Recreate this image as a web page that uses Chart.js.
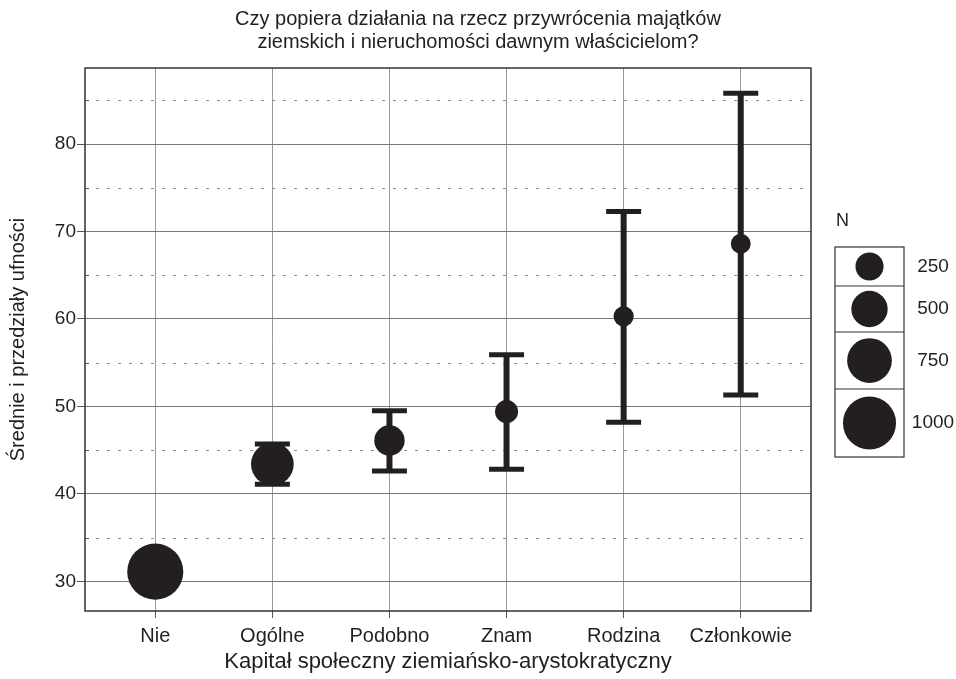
<!DOCTYPE html>
<html>
<head>
<meta charset="utf-8">
<script src="https://cdn.jsdelivr.net/npm/chart.js@4.4.1/dist/chart.umd.min.js"></script>
<style>
  html, body { margin: 0; padding: 0; background: #fff; }
  #wrap { width: 956px; height: 679px; }
</style>
</head>
<body>
<div id="wrap"><canvas id="chart" width="956" height="679"></canvas></div>
<script>
const categories = ['Nie', 'Ogólne', 'Podobno', 'Znam', 'Rodzina', 'Członkowie'];
const means = [31.1, 43.4, 46.1, 49.4, 60.3, 68.6];
const ciLow = [30.0, 41.1, 42.6, 42.8, 48.2, 51.3];
const ciHigh = [32.2, 45.7, 49.5, 55.9, 72.3, 85.8];
const counts = [1090, 690, 320, 100, 12, 5];
const yTicks = [30, 40, 50, 60, 70, 80];
const yHalfTicks = [35, 45, 55, 65, 75, 85];
const legendCounts = [250, 500, 750, 1000];

const ink = '#231f20';
const fontFamily = "'Liberation Sans', Arial, sans-serif";

// bubble size grows with N
function radiusFor(n) {
    return 9.85 + 0.0167 * n;
}

function line(ctx, x1, y1, x2, y2) {
    ctx.beginPath();
    ctx.moveTo(x1, y1);
    ctx.lineTo(x2, y2);
    ctx.stroke();
}

const extrasPlugin = {
    id: 'extras',
    beforeDatasetsDraw(chart) {
        const { ctx, chartArea: a, scales: { x, y } } = chart;
        ctx.save();

        // dotted lines between the labelled ticks
        ctx.strokeStyle = '#8a8a8a';
        ctx.lineWidth = 1;
        ctx.setLineDash([3, 8]);
        yHalfTicks.forEach(v => {
            const py = Math.round(y.getPixelForValue(v)) + 0.5;
            line(ctx, a.left, py, a.right, py);
        });
        ctx.setLineDash([]);
        ctx.strokeStyle = '#555';
        yHalfTicks.forEach(v => {
            const py = Math.round(y.getPixelForValue(v)) + 0.5;
            line(ctx, a.left, py, a.left + 4, py);
        });

        // frame
        ctx.strokeStyle = '#333';
        ctx.lineWidth = 1.5;
        ctx.strokeRect(a.left, a.top, a.width, a.height);

        // confidence intervals
        ctx.strokeStyle = ink;
        categories.forEach((c, i) => {
            const px = x.getPixelForValue(i);
            const lo = y.getPixelForValue(ciLow[i]);
            const hi = y.getPixelForValue(ciHigh[i]);
            ctx.lineWidth = 6;
            line(ctx, px, lo, px, hi);
            ctx.lineWidth = 5;
            line(ctx, px - 17.5, lo, px + 17.5, lo);
            line(ctx, px - 17.5, hi, px + 17.5, hi);
        });
        ctx.restore();
    },
    afterDraw(chart) {
        const ctx = chart.ctx;
        const rows = [247, 286, 332, 389, 457];
        const boxLeft = 835, boxRight = 904, labelX = 933;
        ctx.save();
        ctx.fillStyle = ink;
        ctx.font = `18px ${fontFamily}`;
        ctx.textBaseline = 'middle';
        ctx.textAlign = 'left';
        ctx.fillText('N', 836, 221);

        ctx.strokeStyle = '#333';
        ctx.lineWidth = 1.2;
        ctx.strokeRect(boxLeft, rows[0], boxRight - boxLeft, rows[rows.length - 1] - rows[0]);
        ctx.font = `19px ${fontFamily}`;
        ctx.textAlign = 'center';
        legendCounts.forEach((n, i) => {
            const cy = (rows[i] + rows[i + 1]) / 2;
            if (i > 0) line(ctx, boxLeft, rows[i], boxRight, rows[i]);
            ctx.beginPath();
            ctx.arc((boxLeft + boxRight) / 2, cy, radiusFor(n), 0, Math.PI * 2);
            ctx.fill();
            ctx.fillText(String(n), labelX, cy);
        });
        ctx.restore();
    }
};

const chart = new Chart(document.getElementById('chart').getContext('2d'), {
    type: 'bubble',
    data: {
        datasets: [{
            data: categories.map((c, i) => ({ x: i, y: means[i], r: radiusFor(counts[i]) })),
            backgroundColor: ink,
            borderWidth: 0,
            hoverRadius: 0
        }]
    },
    options: {
        responsive: false,
        animation: false,
        layout: { padding: 0 },
        plugins: {
            legend: { display: false },
            tooltip: { enabled: false },
            title: {
                display: true,
                text: ['Czy popiera działania na rzecz przywrócenia majątków',
                       'ziemskich i nieruchomości dawnym właścicielom?'],
                color: ink,
                font: { family: fontFamily, size: 20, weight: 'normal', lineHeight: 1.15 },
                padding: { top: 8, bottom: 14 }
            }
        },
        scales: {
            x: {
                type: 'linear',
                min: -0.6,
                max: 5.6,
                afterBuildTicks: s => { s.ticks = categories.map((c, i) => ({ value: i })); },
                afterFit: s => { s.height = 68; },
                ticks: {
                    callback: v => categories[v],
                    color: ink,
                    font: { family: fontFamily, size: 20 },
                    padding: 6,
                    maxRotation: 0,
                    autoSkip: false
                },
                grid: { color: '#999', tickColor: '#555', tickLength: 7, lineWidth: 1 },
                border: { display: false },
                title: {
                    display: true,
                    text: 'Kapitał społeczny ziemiańsko-arystokratyczny',
                    color: ink,
                    font: { family: fontFamily, size: 22, lineHeight: 1.1 },
                    padding: { top: 0, bottom: 5 }
                }
            },
            y: {
                min: 26.6,
                max: 88.7,
                afterBuildTicks: s => { s.ticks = yTicks.map(v => ({ value: v })); },
                afterFit: s => { s.width = 85; },
                ticks: {
                    color: ink,
                    font: { family: fontFamily, size: 19 },
                    padding: 1
                },
                grid: { color: '#777', tickColor: '#555', tickLength: 8, lineWidth: 1 },
                border: { display: false },
                title: {
                    display: true,
                    text: 'Średnie i przedziały ufności',
                    color: ink,
                    font: { family: fontFamily, size: 20, lineHeight: 1.2 },
                    padding: { top: 6, bottom: 0 }
                }
            },
            yR: {
                position: 'right',
                afterFit: s => { s.width = 145; },
                ticks: { display: false },
                grid: { display: false },
                border: { display: false }
            }
        }
    },
    plugins: [extrasPlugin]
});
</script>
</body>
</html>
